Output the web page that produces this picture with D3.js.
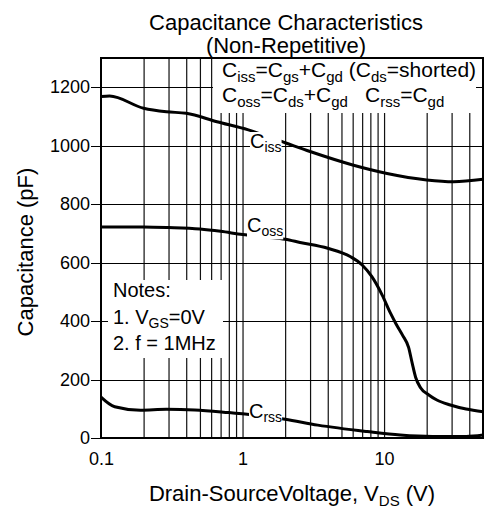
<!DOCTYPE html>
<html>
<head>
<meta charset="utf-8">
<script src="https://cdn.jsdelivr.net/npm/d3@7"></script>
<style>
  body { margin: 0; background: #fff; }
  svg { display: block; font-family: "Liberation Sans", Arial, sans-serif; }
</style>
</head>
<body>
<svg id="chart" width="484" height="509"></svg>
<script>
// values
const cissVds = [0.1, 0.115, 0.2, 0.29, 0.4, 0.66, 1.1, 2.0, 3.0, 6.0, 10.5, 20, 31, 50];
const cissPf  = [1168, 1170, 1128, 1116, 1111, 1082, 1054, 1010, 980, 934, 905, 883, 877, 885];

const cossVds = [0.1, 0.2, 0.3, 0.5, 0.7, 1.0, 1.5, 2.0, 2.55, 4.0, 5.8, 7.0, 8.2, 9.7, 11.1, 12.1, 13.5, 14.9, 15.8, 16.7, 18.1, 20.6, 23.6, 29.4, 38, 50];
const cossPf  = [722, 722, 720, 715, 707, 696, 687, 680, 669, 649, 620, 592, 552, 489, 427, 392, 352, 310, 256, 208, 172, 148, 130, 113, 99, 90];

const crssVds = [0.1, 0.125, 0.19, 0.29, 0.46, 0.8, 1.04, 2.0, 3.4, 7.6, 13, 22, 38, 50];
const crssPf  = [140, 107, 95, 98, 96, 87, 82, 64, 44, 22, 10, 5, 5, 10];

const yTicks = [0, 200, 400, 600, 800, 1000, 1200];
const xLabels = [0.1, 1, 10];
const xGrid = [0.2, 0.3, 0.4, 0.5, 0.6, 0.7, 0.8, 0.9, 1, 2, 3, 4, 5, 6, 7, 8, 9, 10, 20, 30, 40];

const svg = d3.select("#chart");
const plotLeft = 101, plotRight = 483, plotTop = 58, plotBottom = 438;

const x = d3.scaleLog().domain([0.1, 50]).range([plotLeft, plotRight]);
const y = d3.scaleLinear().domain([0, 1300]).range([plotBottom, plotTop]);

svg.append("rect").attr("width", 484).attr("height", 509).attr("fill", "#fff");

// vertical grid
svg.append("g")
    .attr("transform", `translate(0,${plotBottom})`)
    .call(d3.axisBottom(x).tickValues(xGrid).tickSize(-(plotBottom - plotTop)).tickFormat(""))
    .call(g => g.select(".domain").remove())
    .call(g => g.selectAll("line").attr("stroke", "#111").attr("stroke-width", 1.2));

// horizontal grid
svg.append("g")
    .attr("transform", `translate(${plotLeft},0)`)
    .call(d3.axisLeft(y).tickValues(yTicks.slice(1)).tickSize(-(plotRight - plotLeft)).tickFormat(""))
    .call(g => g.select(".domain").remove())
    .call(g => g.selectAll("line").attr("stroke", "#000").attr("stroke-width", 1).attr("shape-rendering", "crispEdges"));

// y axis ticks + labels
svg.append("g")
    .attr("transform", `translate(${plotLeft},0)`)
    .call(d3.axisLeft(y).tickValues(yTicks).tickSize(10).tickPadding(1).tickFormat(d3.format("d")))
    .call(g => g.select(".domain").remove())
    .call(g => g.selectAll("line").attr("stroke", "#000").attr("shape-rendering", "crispEdges"))
    .call(g => g.selectAll("text").attr("font-size", 18).attr("fill", "#000")
        .attr("font-family", "Liberation Sans, Arial, sans-serif"));

// x axis labels
svg.append("g")
    .attr("transform", `translate(0,${plotBottom})`)
    .call(d3.axisBottom(x).tickValues(xLabels).tickSize(0).tickPadding(14).tickFormat(d3.format("~g")))
    .call(g => g.select(".domain").remove())
    .call(g => g.selectAll("text").attr("font-size", 18).attr("fill", "#000")
        .attr("font-family", "Liberation Sans, Arial, sans-serif"));

// white boxes behind the legend text and the notes
svg.append("rect").attr("x", 213).attr("y", plotTop + 1).attr("width", 263).attr("height", 54).attr("fill", "#fff");
svg.append("rect").attr("x", 108).attr("y", 280).attr("width", 115).attr("height", 78).attr("fill", "#fff");

// frame
svg.append("rect")
    .attr("x", plotLeft).attr("y", plotTop)
    .attr("width", plotRight - plotLeft).attr("height", plotBottom - plotTop)
    .attr("fill", "none").attr("stroke", "#000").attr("stroke-width", 2);

// curves
const line = d3.line()
    .x(d => x(d[0]))
    .y(d => y(d[1]))
    .curve(d3.curveMonotoneX);

const series = [
    { vds: cissVds, pf: cissPf },
    { vds: cossVds, pf: cossPf },
    { vds: crssVds, pf: crssPf }
];

svg.append("g").selectAll("path")
    .data(series)
    .join("path")
    .attr("d", s => line(d3.zip(s.vds, s.pf)))
    .attr("fill", "none")
    .attr("stroke", "#000")
    .attr("stroke-width", 3);

// text with subscripts: parts = [[text, isSub], ...]
function richText(g, px, py, parts, size, subSize, bg) {
    const t = g.append("text").attr("x", px).attr("y", py).attr("font-size", size).attr("fill", "#000");
    let down = false;
    parts.forEach(([s, sub]) => {
        const ts = t.append("tspan").text(s);
        if (sub && !down) { ts.attr("dy", size * 0.22).attr("font-size", subSize); down = true; }
        else if (sub) { ts.attr("font-size", subSize); }
        else if (down) { ts.attr("dy", -size * 0.22); down = false; }
    });
    if (bg) {
        const b = t.node().getBBox();
        g.insert("rect", () => t.node())
            .attr("x", b.x).attr("y", b.y + 2)
            .attr("width", b.width).attr("height", b.height - 2)
            .attr("fill", "#fff");
    }
    return t;
}

// curve labels
const labels = svg.append("g");
richText(labels.append("g"), 250, 148, [["C"], ["iss", 1]], 20, 14, true);
richText(labels.append("g"), 247, 232, [["C"], ["oss", 1]], 20, 14, true);
richText(labels.append("g"), 249, 418, [["C"], ["rss", 1]], 20, 14, true);

// legend text
const legend = svg.append("g");
richText(legend, 222, 77, [["C"], ["iss", 1], ["=C"], ["gs", 1], ["+C"], ["gd", 1], [" (C"], ["ds", 1], ["=shorted)"]], 21, 15);
richText(legend, 222, 102, [["C"], ["oss", 1], ["=C"], ["ds", 1], ["+C"], ["gd", 1]], 21, 15);
richText(legend, 365, 102, [["C"], ["rss", 1], ["=C"], ["gd", 1]], 21, 15);

// notes
const notes = svg.append("g");
richText(notes, 113, 297, [["Notes:"]], 20, 14);
richText(notes, 113, 324, [["1. V"], ["GS", 1], ["=0V"]], 20, 14);
richText(notes, 113, 350, [["2. f = 1MHz"]], 20, 14);

// titles
svg.append("text").attr("x", 286).attr("y", 30).attr("text-anchor", "middle")
    .attr("font-size", 22).text("Capacitance Characteristics");
svg.append("text").attr("x", 286).attr("y", 53).attr("text-anchor", "middle")
    .attr("font-size", 22).text("(Non-Repetitive)");

svg.append("text")
    .attr("transform", "translate(33,252) rotate(-90)")
    .attr("text-anchor", "middle")
    .attr("font-size", 22)
    .text("Capacitance (pF)");

const xt = richText(svg.append("g"), 292, 501, [["Drain-SourceVoltage, V"], ["DS", 1], [" (V)"]], 22, 15);
xt.attr("text-anchor", "middle");
</script>
</body>
</html>
